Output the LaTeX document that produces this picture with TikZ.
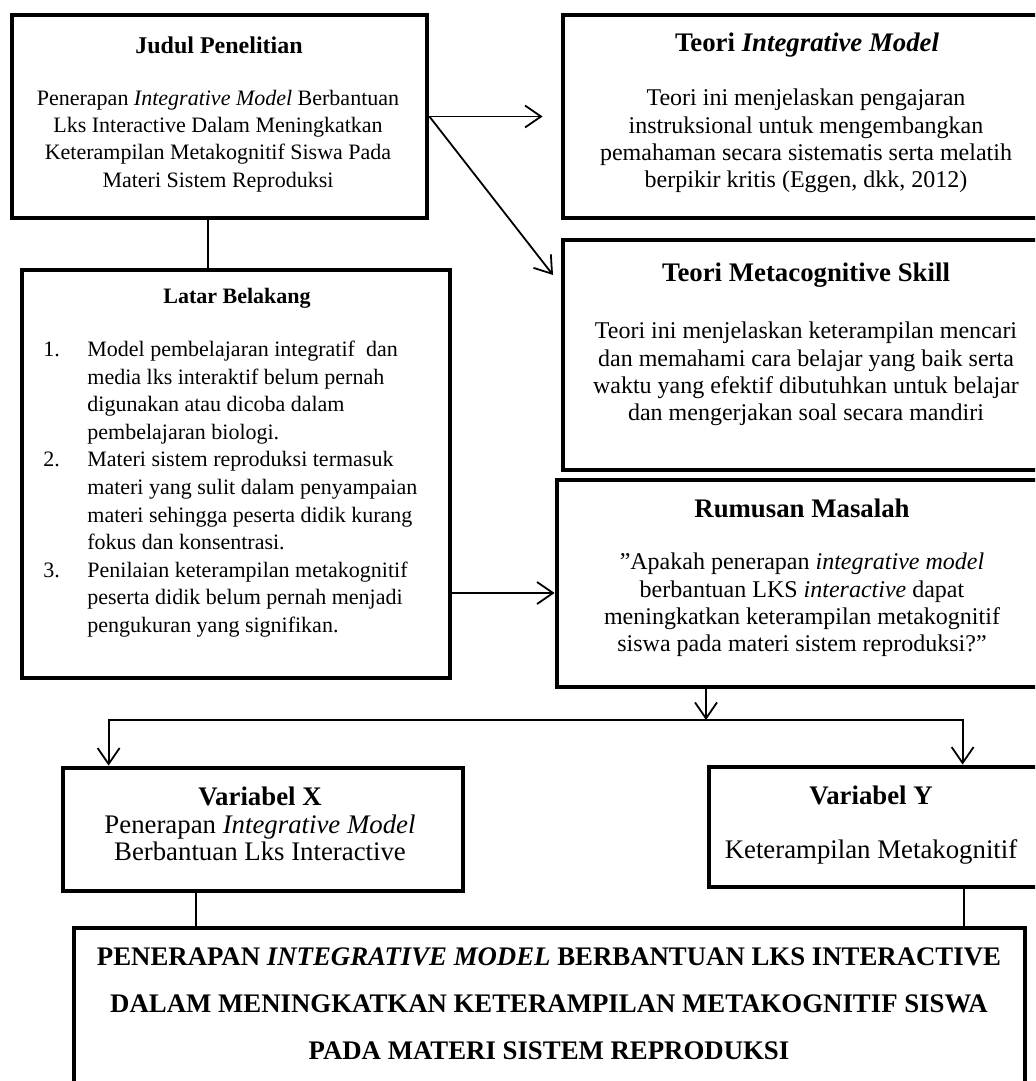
\documentclass[tikz,border=0pt]{standalone}
\usepackage{fontspec}
\setmainfont{Liberation Serif}
\usetikzlibrary{arrows.meta,positioning}

\tikzset{
  kotak/.style={draw,line width=2.4pt,inner sep=0pt},
  teks/.style={align=center,inner sep=0pt,font=\fontsize{12}{13.7}\selectfont},
  kepala/.style={teks,font=\fontsize{13.4}{15}\selectfont\bfseries},
  garis/.style={line width=0.9pt},
  panah/.style={line width=0.9pt,-{Straight Barb[length=8pt,width=11pt,line width=0.9pt]}}
}

\begin{document}
\begin{tikzpicture}[x=0.5pt,y=-0.5pt]
  \clip (0,0) rectangle (1035,1081);

	% Kotak
	\node[kotak,minimum width=207.5pt,minimum height=101.5pt] (judul) at (219.5,116.5) {};
	\node[kotak,minimum width=243.5pt,minimum height=101.5pt] (teori) at (806.5,116.5) {};
	\node[kotak,minimum width=243.5pt,minimum height=115pt] (meta) at (806.5,355) {};
	\node[kotak,minimum width=214pt,minimum height=204pt] (latar) at (236,474) {};
	\node[kotak,minimum width=245pt,minimum height=103.5pt] (rumusan) at (802,583.5) {};
	\node[kotak,minimum width=200pt,minimum height=61.5pt] (varx) at (263,829.5) {};
	\node[kotak,minimum width=168pt,minimum height=60pt] (vary) at (877,827) {};
	\node[kotak,minimum width=475.5pt,minimum height=90pt] (hasil) at (549.5,1018) {};

	% Teks
	\node[kepala,font=\fontsize{12}{13.7}\selectfont\bfseries] (judul-kepala) at (219,45) {Judul Penelitian};
	\node[teks,font=\fontsize{11}{13.7}\selectfont] (judul-isi) at (218,141) {Penerapan \textit{Integrative Model} Berbantuan\\
	  Lks Interactive Dalam Meningkatkan\\
	  Keterampilan Metakognitif Siswa Pada\\
	  Materi Sistem Reproduksi};

	\node[kepala] (teori-kepala) at (807,45) {Teori \textit{Integrative Model}};
	\node[teks] (teori-isi) at (806,141) {Teori ini menjelaskan pengajaran\\
	  instruksional untuk mengembangkan\\
	  pemahaman secara sistematis serta melatih\\
	  berpikir kritis (Eggen, dkk, 2012)};

	\node[kepala] (meta-kepala) at (806,275) {Teori Metacognitive Skill};
	\node[teks] (meta-isi) at (806,374) {Teori ini menjelaskan keterampilan mencari\\
	  dan memahami cara belajar yang baik serta\\
	  waktu yang efektif dibutuhkan untuk belajar\\
	  dan mengerjakan soal secara mandiri};

	\node[kepala,font=\fontsize{11}{13.7}\selectfont\bfseries] (latar-kepala) at (237,298) {Latar Belakang};
	\node[teks,anchor=west,align=left,font=\fontsize{11}{13.8}\selectfont] (latar-isi) at (43,489) {%
	  \begin{tabular}{@{}p{22pt}@{}l@{}}
	  1. & Model pembelajaran integratif \ dan\\
	     & media lks interaktif belum pernah\\
	     & digunakan atau dicoba dalam\\
	     & pembelajaran biologi.\\
	  2. & Materi sistem reproduksi termasuk\\
	     & materi yang sulit dalam penyampaian\\
	     & materi sehingga peserta didik kurang\\
	     & fokus dan konsentrasi.\\
	  3. & Penilaian keterampilan metakognitif\\
	     & peserta didik belum pernah menjadi\\
	     & pengukuran yang signifikan.
	  \end{tabular}};

	\node[kepala] (rumusan-kepala) at (802,508) {Rumusan Masalah};
	\node[teks] (rumusan-isi) at (802,605) {”Apakah penerapan \textit{integrative model}\\
	  berbantuan LKS \textit{interactive} dapat\\
	  meningkatkan keterampilan metakognitif\\
	  siswa pada materi sistem reproduksi?”};

	\node[teks,font=\fontsize{13.4}{13.7}\selectfont] (varx-isi) at (260,824) {\textbf{Variabel X}\\
	  Penerapan \textit{Integrative Model}\\
	  Berbantuan Lks Interactive};
	\node[teks,font=\fontsize{13.4}{13.7}\selectfont] (vary-isi) at (871,825) {\textbf{Variabel Y}\\[13.7pt]
	  Keterampilan Metakognitif};

	\node[teks,font=\fontsize{13.4}{23.5}\selectfont\bfseries] (hasil-isi) at (549,1003.5) {%
	  PENERAPAN \textit{INTEGRATIVE MODEL} BERBANTUAN LKS INTERACTIVE\\
	  DALAM MENINGKATKAN KETERAMPILAN METAKOGNITIF SISWA\\
	  PADA MATERI SISTEM REPRODUKSI};

	% Titik bantu
	\coordinate (metaujung) at (553,275);
	\coordinate (judulbawah) at ([xshift=-5.75pt]judul.south);
	\coordinate (masuk) at ([yshift=-4.75pt]rumusan.west);
	\coordinate (cabang) at (706,720);
	\coordinate (xatas) at ([xshift=24pt]varx.north west);
	\coordinate (yatas) at ([xshift=128pt]vary.north west);
	\coordinate (xbawah) at ([xshift=67.5pt]varx.south west);
	\coordinate (ybawah) at ([xshift=128.5pt]vary.south west);

	% Panah
	\draw[panah,shorten >=9pt] (judul.east) -- (teori.west);
	\draw[panah] (judul.east) -- (metaujung);
	\draw[garis] (judulbawah) -- (judulbawah |- latar.north);
	\draw[panah] (masuk -| latar.east) -- (masuk);
	\draw[panah] (cabang |- rumusan.south) -- (cabang);
	\draw[panah] (cabang) -| (xatas);
	\draw[panah] (cabang) -| (yatas);
	\draw[garis] (xbawah) -- (xbawah |- hasil.north);
	\draw[garis] (ybawah) -- (ybawah |- hasil.north);
\end{tikzpicture}
\end{document}
